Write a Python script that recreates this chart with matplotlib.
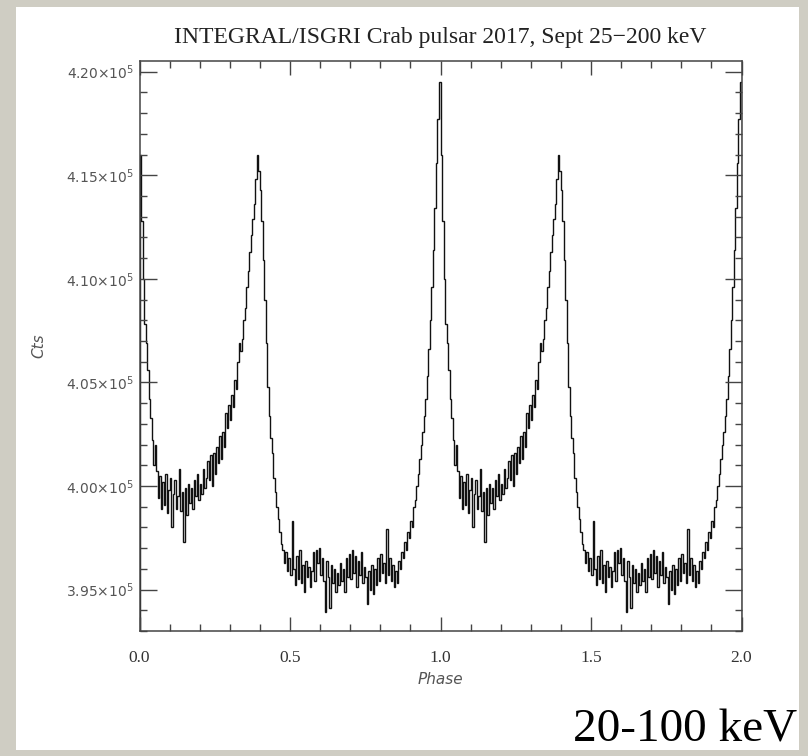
import numpy as np
import matplotlib.pyplot as plt
from matplotlib.patches import Rectangle
from matplotlib.ticker import MultipleLocator, FixedLocator

# one pulse cycle, 200 phase bins, counts in units of 1000
cycle_counts = [
    416.0, 412.8, 410.0, 407.8, 406.9, 405.6, 404.2, 403.3, 402.2, 401.0,
    402.0, 400.7, 399.4, 400.5, 398.9, 400.2, 399.1, 400.6, 398.7, 399.8,
    400.4, 398.0, 399.6, 400.3, 398.9, 399.5, 400.8, 398.8, 399.7, 397.3,
    399.9, 398.6, 400.1, 399.2, 399.9, 398.9, 400.3, 399.5, 400.6, 399.3,
    400.1, 399.6, 400.8, 399.9, 400.4, 401.2, 400.3, 401.5, 400.0, 401.6,
    400.6, 401.9, 401.1, 402.4, 401.3, 402.6, 401.9, 403.5, 402.8, 403.9,
    403.2, 404.4, 403.8, 405.1, 404.7, 406.0, 406.9, 406.5, 407.1, 408.0,
    408.6, 409.6, 410.4, 411.3, 412.1, 412.9, 413.6, 414.8, 416.0, 415.2,
    414.3, 412.8, 410.9, 409.0, 406.9, 404.8, 403.4, 402.3, 401.6, 400.4,
    399.7, 399.0, 398.4, 397.8, 397.2, 396.9, 396.3, 396.8, 395.9, 396.5,
    395.7, 398.3, 396.0, 395.2, 396.6, 395.5, 396.9, 395.3, 396.2, 394.9,
    396.4, 395.6, 396.1, 395.1, 395.9, 396.8, 395.4, 396.9, 396.3, 397.0,
    395.7, 396.5, 395.4, 393.9, 396.4, 395.6, 394.1, 396.2, 395.3, 396.0,
    394.9, 395.8, 395.2, 396.3, 395.4, 396.0, 394.9, 396.5, 395.6, 396.7,
    395.5, 396.9, 395.8, 396.6, 395.1, 396.4, 395.7, 396.8, 395.3, 396.1,
    395.6, 394.3, 395.9, 395.0, 396.2, 394.8, 396.0, 395.2, 396.5, 395.4,
    396.7, 395.8, 396.3, 395.3, 397.9, 395.7, 396.5, 395.4, 396.2, 395.1,
    395.9, 395.3, 396.4, 396.0, 396.8, 396.5, 397.3, 396.9, 397.8, 397.5,
    398.3, 398.0, 399.0, 399.3, 400.0, 400.6, 401.3, 402.0, 402.6, 403.4,
    404.2, 405.3, 406.6, 408.0, 409.6, 411.4, 413.4, 415.6, 417.7, 419.5,
]
n_cycles = 2
title = 'INTEGRAL/ISGRI Crab pulsar 2017, Sept 25\u2212200 keV'
band_label = '20-100 keV'
x_ticks = [0.0, 0.5, 1.0, 1.5, 2.0]
y_ticks = [395000, 400000, 405000, 410000, 415000, 420000]

counts = np.tile(np.array(cycle_counts) * 1000.0, n_cycles)
edges = np.linspace(0, n_cycles, len(counts) + 1)

plt.rcParams['mathtext.fontset'] = 'dejavusans'
plt.rcParams['mathtext.default'] = 'it'

fig = plt.figure(figsize=(8.08, 7.56), dpi=100, facecolor='#cfcdc3')
# white page behind the plot
fig.add_artist(Rectangle((16 / 808, 6 / 756), 783 / 808, 743 / 756,
                         transform=fig.transFigure, facecolor='white',
                         edgecolor='none', zorder=-10))

ax = fig.add_axes([139.5 / 808, 1 - 631 / 756, 602 / 808, 570.3 / 756])
ax.set_facecolor('white')
ax.stairs(counts, edges, color='#111111', linewidth=1.0)

ax.set_xlim(0, 2)
ax.set_ylim(393000, 420530)
ax.xaxis.set_major_locator(FixedLocator(x_ticks))
ax.xaxis.set_minor_locator(MultipleLocator(0.1))
ax.yaxis.set_major_locator(FixedLocator(y_ticks))
ax.yaxis.set_minor_locator(MultipleLocator(1000))

for s in ax.spines.values():
    s.set_color('#444444')
    s.set_linewidth(1.1)

ax.tick_params(which='both', direction='in', top=True, right=True,
               color='#444444', width=1.0)
ax.tick_params(axis='x', which='major', length=10, pad=14)
ax.tick_params(axis='x', which='minor', length=5)
ax.tick_params(axis='y', which='major', length=12, pad=4)
ax.tick_params(axis='y', which='minor', length=5)

ax.set_xticklabels(['%.1f' % t for t in x_ticks], family='Liberation Serif',
                   fontsize=12.5, color='#333333')
ax.set_yticklabels([r'$%.2f{\times}10^{5}$' % (t / 1e5) for t in y_ticks],
                   fontsize=10, color='#555555')

ax.set_xlabel('Phase', fontsize=11, style='italic', color='#555555',
              labelpad=4)
ax.set_ylabel('Cts', fontsize=11, style='italic', color='#555555',
              labelpad=14)
ax.set_title(title, family='Liberation Serif', fontsize=17,
             color='#222222', pad=13)

fig.text(797 / 808, 1 - 742 / 756, band_label, family='Liberation Serif',
         fontsize=34, color='black', ha='right', va='baseline')

fig.savefig('out.png', dpi=100, facecolor=fig.get_facecolor())
